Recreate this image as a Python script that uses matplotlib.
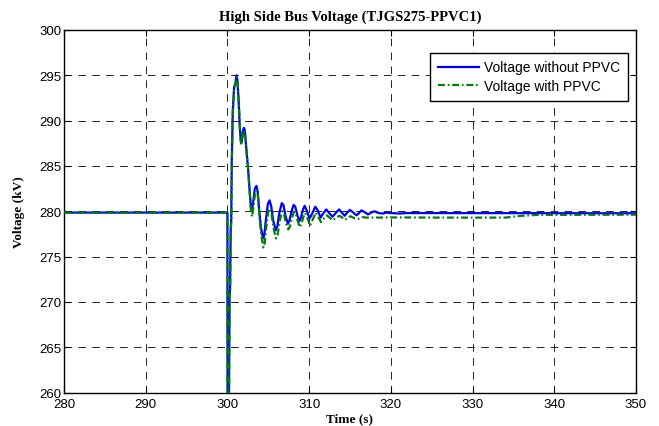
import matplotlib
matplotlib.use("Agg")
import matplotlib.pyplot as plt

# ---- data ----
t_without = [280.0, 300.0, 300.02, 300.15, 300.2, 300.26, 300.32, 300.4, 300.46, 300.53,
             300.65, 300.82, 300.95, 301.12, 301.22, 301.38, 301.5, 301.62, 301.72, 301.85,
             302.0, 302.12, 302.3, 302.5, 302.7, 302.88, 303.0, 303.15, 303.35, 303.55,
             303.7, 303.9, 304.1, 304.35, 304.5, 304.7, 304.95, 305.15, 305.35, 305.6,
             305.9, 306.1, 306.35, 306.65, 306.85, 307.1, 307.4, 307.6, 307.85, 308.1,
             308.3, 308.55, 308.8, 309.0, 309.25, 309.45, 309.7, 310.05, 310.35, 310.75,
             311.05, 311.4, 311.75, 312.1, 312.45, 312.85, 313.25, 313.65, 314.0, 314.35,
             314.65, 315.0, 315.4, 315.8, 316.1, 316.4, 316.8, 317.2, 317.6, 318.0,
             318.5, 319.0, 319.5, 320.0, 321.0, 322.0, 350.0]
v_without = [279.85, 279.85, 250.0, 250.0, 262.0, 270.5, 271.5, 278.0, 279.0, 285.5,
             291.0, 293.7, 294.0, 295.0, 294.5, 292.0, 289.5, 287.9, 287.6, 288.6,
             289.2, 289.0, 287.0, 285.0, 282.5, 280.3, 280.0, 281.0, 282.5, 282.8,
             282.2, 280.0, 278.2, 277.0, 277.3, 279.0, 280.8, 281.2, 280.6, 279.0,
             277.9, 278.3, 279.8, 280.9, 280.7, 279.5, 278.6, 279.0, 280.0, 280.7,
             280.5, 279.6, 278.9, 279.3, 280.2, 280.6, 280.1, 279.2, 279.7, 280.5,
             280.1, 279.3, 279.8, 280.2, 279.8, 279.4, 279.8, 280.2, 279.85, 279.5,
             279.85, 280.15, 279.85, 279.55, 279.8, 280.1, 279.9, 279.65, 279.85, 280.0,
             279.8, 279.75, 279.85, 279.8, 279.75, 279.8, 279.78]

t_with = [280.0, 300.0, 300.02, 300.17, 300.22, 300.28, 300.34, 300.42, 300.48, 300.55,
          300.67, 300.84, 300.97, 301.14, 301.24, 301.4, 301.52, 301.64, 301.74, 301.87,
          302.02, 302.14, 302.32, 302.52, 302.72, 302.9, 303.02, 303.17, 303.37, 303.57,
          303.72, 303.92, 304.12, 304.4, 304.55, 304.75, 305.0, 305.2, 305.4, 305.65,
          305.95, 306.15, 306.4, 306.7, 306.9, 307.15, 307.45, 307.65, 307.9, 308.15,
          308.35, 308.6, 308.85, 309.05, 309.3, 309.5, 309.75, 310.1, 310.4, 310.8,
          311.1, 311.45, 311.8, 312.15, 312.5, 312.9, 313.3, 313.7, 314.05, 314.4,
          314.7, 315.05, 315.5, 316.0, 316.5, 317.0, 318.0, 320.0, 326.0, 334.0,
          336.0, 338.0, 350.0]
v_with = [279.85, 279.85, 250.0, 250.0, 262.0, 270.5, 271.5, 278.0, 279.0, 285.5,
          291.0, 293.7, 294.0, 294.8, 294.3, 291.8, 289.3, 287.6, 287.3, 288.4,
          289.0, 288.8, 286.8, 284.8, 282.2, 279.8, 279.4, 280.4, 281.9, 282.3,
          281.8, 279.4, 277.5, 276.0, 276.4, 278.2, 280.0, 280.3, 279.7, 278.1,
          277.0, 277.4, 279.0, 280.0, 279.8, 278.7, 278.0, 278.3, 279.3, 279.95,
          279.8, 278.9, 278.25, 278.6, 279.4, 279.8, 279.4, 278.4, 279.0, 279.85,
          279.4, 278.8, 279.2, 279.55, 279.3, 279.0, 279.3, 279.5, 279.3, 279.05,
          279.3, 279.45, 279.25, 279.15, 279.35, 279.3, 279.3, 279.32, 279.3, 279.3,
          279.5, 279.6, 279.62]

x_ticks = [280, 290, 300, 310, 320, 330, 340, 350]
y_ticks = [260, 265, 270, 275, 280, 285, 290, 295, 300]

title = "High Side Bus Voltage (TJGS275-PPVC1)"
xlabel = "Time (s)"
ylabel = "Voltage (kV)"
labels = ["Voltage without PPVC", "Voltage with PPVC"]

# ---- figure ----
plt.rcParams['lines.scale_dashes'] = False
fig = plt.figure(figsize=(6.59, 4.27), dpi=100)
ax = fig.add_axes([64/659, 1-393.5/427, 572/659, 362.5/427])

ax.plot(t_without, v_without, color='#0000ff', lw=1.6, label=labels[0], zorder=3)
ax.plot(t_with, v_with, color='#008000', lw=1.6, ls=(0, (5, 2, 1.2, 2)), label=labels[1], zorder=4)

ax.set_xlim(280, 350)
ax.set_ylim(260, 300)
ax.set_xticks(x_ticks)
ax.set_yticks(y_ticks)

tickfont = dict(family='Liberation Sans', size=9.5)
ax.set_xticklabels([str(v) for v in x_ticks], fontdict=tickfont)
ax.set_yticklabels([str(v) for v in y_ticks], fontdict=tickfont)
ax.tick_params(direction='in', length=4, width=0.8, top=True, right=True, colors='black')
ax.tick_params(axis='x', pad=4)
ax.tick_params(axis='y', pad=2)

ax.grid(True, color='#222222', lw=0.7, ls=(0, (5.5, 4.5)))
ax.set_axisbelow(True)
for s in ax.spines.values():
    s.set_linewidth(1.0)
    s.set_color('black')

serif_bold = dict(family='Liberation Serif', weight='bold', size=9.5)
ax.set_title(title, fontdict=dict(family='Liberation Serif', weight='bold', size=10.5), pad=7)
ax.set_xlabel(xlabel, fontdict=serif_bold, labelpad=1.5)
ax.set_ylabel(ylabel, fontdict=serif_bold, labelpad=10)

leg = ax.legend(loc='upper right', bbox_to_anchor=(0.986, 0.937), prop=dict(family='Liberation Sans', size=10),
                fancybox=False, framealpha=1, edgecolor='black', handlelength=3.0,
                borderpad=0.55, labelspacing=0.35, handletextpad=0.35, borderaxespad=0)
leg.get_frame().set_linewidth(1.0)

fig.savefig('out.png', dpi=100)
